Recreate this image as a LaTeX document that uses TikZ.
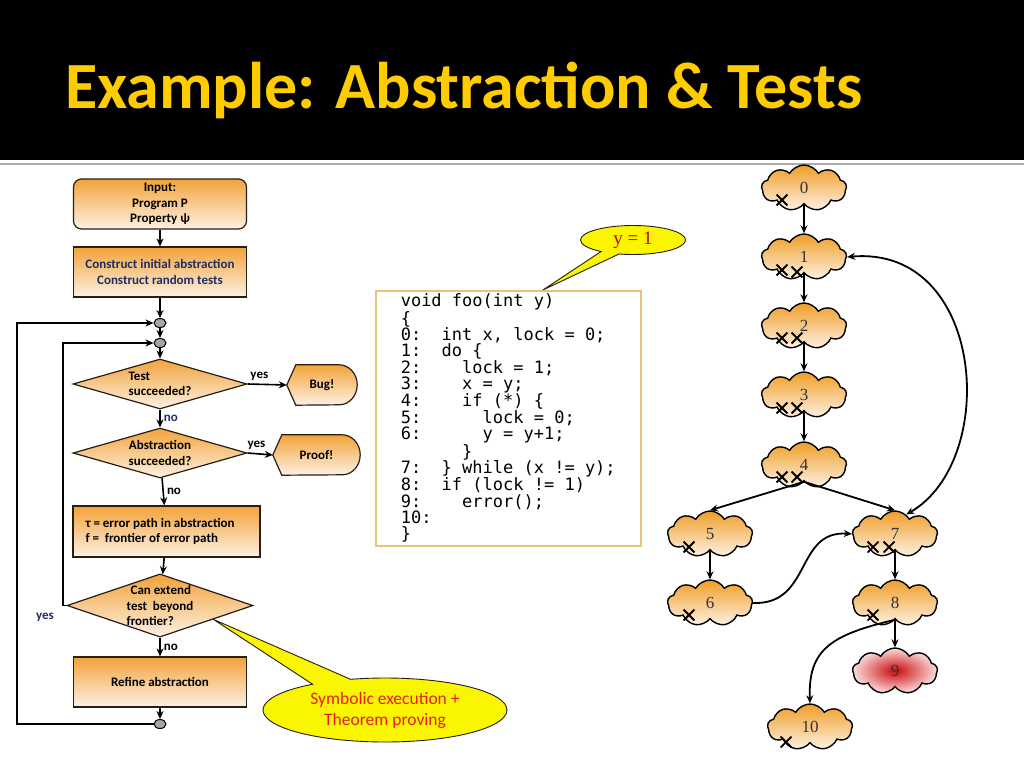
\documentclass[tikz,border=0pt]{standalone}
\usepackage{fontspec}
\setmainfont{Carlito}
\newfontfamily\codefont{DejaVu Sans Mono}
\newfontfamily\numfont{Liberation Serif}
\usepackage{xcolor}
\usetikzlibrary{shapes,arrows,arrows.meta,positioning,calc}

\definecolor{titlegold}{RGB}{255,204,0}
\definecolor{boxorange}{RGB}{242,163,58}
\definecolor{boxlight}{RGB}{253,241,228}
\definecolor{boxline}{RGB}{40,30,20}
\definecolor{navy}{RGB}{30,45,100}
\definecolor{codeframe}{RGB}{232,196,120}
\definecolor{calloutred}{RGB}{235,30,20}
\definecolor{numred}{RGB}{192,0,0}
\definecolor{noteyellow}{RGB}{250,245,0}
\definecolor{cloudorange}{RGB}{240,158,40}
\definecolor{cloudred}{RGB}{205,10,10}
\definecolor{cloudpink}{RGB}{250,222,222}

\tikzset{
  flowtext/.style={font=\bfseries\fontsize{13}{15.5}\selectfont},
  process/.style={rectangle, draw=boxline, line width=1.2pt, top color=boxorange, bottom color=boxlight,
    minimum width=173pt, minimum height=50pt, inner sep=2pt, align=center, flowtext},
  decision/.style={diamond, draw=boxline, line width=1.2pt, top color=boxorange, bottom color=boxlight,
    minimum width=174pt, minimum height=50pt, inner sep=0pt, aspect=3.4, flowtext},
  junction/.style={ellipse, draw=black, line width=1pt, fill=gray!70, minimum width=12pt, minimum height=9pt, inner sep=0pt},
  dispbox/.style={minimum width=70pt, minimum height=40pt, inner sep=0pt, flowtext},
  lbl/.style={flowtext, inner sep=3pt},
  flow/.style={draw, line width=1.6pt, -{Stealth[length=8pt,width=7pt]}},
  callout/.style={ellipse callout, draw=boxline, line width=0.9pt, fill=noteyellow, inner sep=0pt, align=center},
  cloudnode/.style={cloud, cloud puffs=9, cloud puff arc=120, cloud ignores aspect, draw=black, line width=1.4pt,
    top color=cloudorange, bottom color=boxlight, minimum width=85pt, minimum height=46pt, inner sep=0pt,
    font=\numfont\fontsize{17}{17}\selectfont, text=black!80},
  xmk/.style={cross out, draw=black, line width=1.8pt, minimum size=9pt, inner sep=0pt},
  cfgline/.style={draw, line width=1.8pt, -{Stealth[length=8pt,width=7pt]}},
}

\newcommand{\dispoutline}[1]{%
  \draw[draw=boxline, line width=1.2pt, top color=boxorange, bottom color=boxlight]
    (#1.west) -- ([xshift=9pt]#1.north west) -- ([xshift=-18pt]#1.north east)
    arc[start angle=90, end angle=-90, x radius=18pt, y radius=20pt]
    -- ([xshift=9pt]#1.south west) -- cycle;}

\begin{document}
\begin{tikzpicture}[x=1pt, y=-1pt]
\useasboundingbox (0,0) rectangle (1024,768);
\fill[white] (0,0) rectangle (1024,768);

% title bar
\fill[black] (0,0) rectangle (1024,160);
\draw[gray!65, line width=2.5pt] (0,164) -- (1024,164);
\node[anchor=base west, inner sep=0pt, text=titlegold, font=\bfseries\fontsize{66}{66}\selectfont] (title) at (65,108) {Example: Abstraction \& Tests};

% flowchart
\node[process, rounded corners=8pt] (inp) at (160,204) {Input:\\Program P\\Property ψ};
\node[process, text=navy] (init) at (160,272) {Construct initial abstraction\\Construct random tests};
\node[junction] (j1) at (160,323) {};
\node[junction] (j2) at (160,343) {};
\node[decision, align=left] (test) at (160,384) {Test\\succeeded?};
\node[dispbox] (bug) at (322,385) {};
\dispoutline{bug}
\node[flowtext] (bugtxt) at (bug) {Bug!};
\node[decision, align=center] (abs) at (160,453) {Abstraction\\succeeded?};
\node[dispbox, minimum width=87pt] (proof) at (316.5,455) {};
\dispoutline{proof}
\node[flowtext] (prooftxt) at (proof) {Proof!};
\node[process, minimum width=187pt, minimum height=51pt, align=flush left, text width=162pt] (tau) at (166.5,531.5) {τ = error path in abstraction\\f =\ \ frontier of error path};
\node[decision, minimum width=186pt, minimum height=63pt, aspect=2.9, align=left] (ext) at (160,605.5) {\hspace*{4pt}Can extend\\test\ \ beyond\\frontier?};
\node[process] (refine) at (160,682) {Refine abstraction};
\node[junction] (j3) at (160,724) {};
\coordinate (outl) at (17,724);
\coordinate (innl) at (63,605.5);

\draw[flow] (inp) -- (init);
\draw[flow] (init) -- (j1);
\draw[flow] (j1) -- (j2);
\draw[flow] (j2) -- (test);
\draw[flow] (test) -- node[right, lbl, text=navy] (no1) {no} (abs);
\draw[flow] (abs) -- node[right, lbl] (no2) {no} (tau);
\draw[flow] (tau) -- (ext);
\draw[flow] (ext) -- node[right, lbl] (no3) {no} (refine);
\draw[flow] (refine) -- (j3);
\draw[flow] (test.east) -- node[above, lbl, pos=0.3] (yes1) {yes} (bug.west);
\draw[flow] (abs.east) -- node[above, lbl, pos=0.35] (yes2) {yes} (proof.west);
\draw[flow] (j3) -- (outl) |- (j1);
\draw[flow] (ext.west) -- (innl) |- (j2);
\node[lbl, text=navy] (yes3) at (45,617) {yes};

% callout on the flowchart
\coordinate (symbtip) at ($(ext.south)!0.57!(ext.east)$);
\node[callout, minimum width=244pt, minimum height=64pt, callout pointer arc=20, callout absolute pointer={(symbtip)},
  text=calloutred, font=\fontsize{17.5}{21}\selectfont] (symb) at (385,710) {Symbolic execution +\\Theorem proving};

% program
\node[draw=codeframe, line width=1.5pt, fill=white, align=left, minimum width=265pt, minimum height=255pt, inner sep=0pt,
  anchor=north west, font=\codefont\fontsize{17}{16.3}\selectfont] (code) at (375,290) {%
void~foo(int~y)\\
\{\\
0:~~int~x,~lock~=~0;\\
1:~~do~\{\\
2:~~~~lock~=~1;\\
3:~~~~x~=~y;\\
4:~~~~if~(*)~\{\\
5:~~~~~~lock~=~0;\\
6:~~~~~~y~=~y+1;\\
\hbox{}~~~~~~\}\\
7:~~\}~while~(x~!=~y);\\
8:~~if~(lock~!=~1)\\
9:~~~~error();\\
10:\\
\}};
\coordinate (ytip) at ($(code.north west)!0.63!(code.north east)$);
\node[callout, minimum width=105pt, minimum height=29pt, callout pointer arc=22, callout absolute pointer={(ytip)},
  text=numred, font=\numfont\fontsize{19}{19}\selectfont] (yval) at (633,240) {y = 1};

% abstract states
\node[cloudnode] (c0) at (804,188) {0};
\node[cloudnode] (c1) at (804,257) {1};
\node[cloudnode] (c2) at (804,326) {2};
\node[cloudnode] (c3) at (804,395) {3};
\node[cloudnode] (c4) at (804,465) {4};
\node[cloudnode] (c5) at (710,534) {5};
\node[cloudnode] (c6) at (710,603) {6};
\node[cloudnode] (c7) at (895,534) {7};
\node[cloudnode] (c8) at (895,603) {8};
\node[cloudnode, shading=radial, inner color=cloudred, outer color=cloudpink] (c9) at (895,671) {9};
\node[cloudnode] (c10) at (810,727) {10};

\node[xmk] (x0a) at ($(c0)+(-22,12)$) {};
\node[xmk] (x1a) at ($(c1)+(-22,13)$) {};
\node[xmk] (x1b) at ($(c1)+(-7,15)$) {};
\node[xmk] (x2a) at ($(c2)+(-22,12)$) {};
\node[xmk] (x2b) at ($(c2)+(-7,12)$) {};
\node[xmk] (x3a) at ($(c3)+(-22,13)$) {};
\node[xmk] (x3b) at ($(c3)+(-7,13)$) {};
\node[xmk] (x4a) at ($(c4)+(-22,12)$) {};
\node[xmk] (x4b) at ($(c4)+(-7,12)$) {};
\node[xmk] (x5a) at ($(c5)+(-21,13)$) {};
\node[xmk] (x6a) at ($(c6)+(-21,12)$) {};
\node[xmk] (x7a) at ($(c7)+(-22,13)$) {};
\node[xmk] (x7b) at ($(c7)+(-6,13)$) {};
\node[xmk] (x8a) at ($(c8)+(-22,12)$) {};
\node[xmk] (x10a) at ($(c10)+(-24,15)$) {};

\draw[cfgline] (c0) -- (c1);
\draw[cfgline] (c1) -- (c2);
\draw[cfgline] (c2) -- (c3);
\draw[cfgline] (c3) -- (c4);
\draw[cfgline] (c4.south) -- (c5.north);
\draw[cfgline] (c4.south) -- (c7.north);
\draw[cfgline] (c5) -- (c6);
\draw[cfgline] (c6.east) .. controls (812,605) and (795,530) .. (c7.west);
\draw[cfgline, {Stealth[length=8pt,width=7pt]}-{Stealth[length=8pt,width=7pt]}] (c7.60) .. controls (1000,460) and (985,245) .. (c1.east);
\draw[cfgline] (c7) -- (c8);
\draw[cfgline] (c8) -- (c9);
\draw[cfgline] (c8.south) .. controls (830,635) and (808,650) .. (c10.north);
\end{tikzpicture}
\end{document}
